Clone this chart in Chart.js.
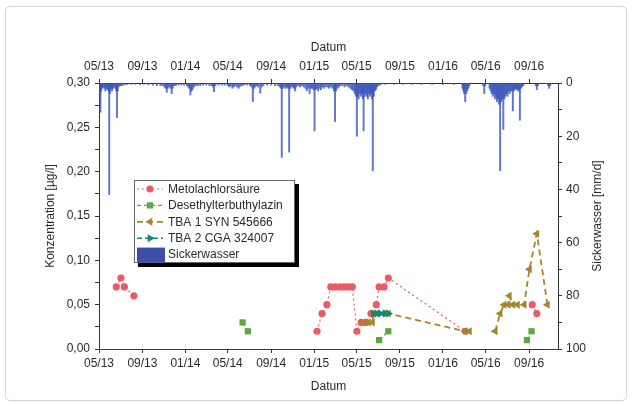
<!DOCTYPE html>
<html>
<head>
<meta charset="utf-8">
<script src="https://cdn.jsdelivr.net/npm/chart.js@4/dist/chart.umd.min.js"></script>
<style>
  html, body { margin: 0; padding: 0; background: #fff; }
  canvas { display: block; }
</style>
</head>
<body>
<canvas id="grafico" width="633" height="406"></canvas>
<script>
// Zeitachse
const xStart = '2013-05-01';
const xEnde = '2016-11-22';
const tickDaten = ['2013-05-01', '2013-09-01', '2014-01-01', '2014-05-01', '2014-09-01', '2015-01-01',
    '2015-05-01', '2015-09-01', '2016-01-01', '2016-05-01', '2016-09-01'];
const tickLabels = ['05/13', '09/13', '01/14', '05/14', '09/14', '01/15', '05/15', '09/15', '01/16', '05/16', '09/16'];

// linke Achse (Konzentration) und rechte Achse (Sickerwasser)
const konzTicks = [0, 0.025, 0.05, 0.075, 0.10, 0.125, 0.15, 0.175, 0.20, 0.225, 0.25, 0.275, 0.30];
const konzLabels = ['0,00', '', '0,05', '', '0,10', '', '0,15', '', '0,20', '', '0,25', '', '0,30'];
const sickerTicks = [0, 10, 20, 30, 40, 50, 60, 70, 80, 90, 100];
const sickerLabels = ['0', '', '20', '', '40', '', '60', '', '80', '', '100'];

// Messwerte, null = Luecke in der Linie
const metoDaten = ['2013-06-19', '2013-07-02', '2013-07-12', '2013-08-08', '2014-06-01',
    '2015-01-09', '2015-01-23', '2015-02-06', '2015-02-17', '2015-03-02', '2015-03-16', '2015-03-27',
    '2015-04-07', '2015-04-19', '2015-05-02', '2015-05-14', '2015-05-28', '2015-06-11', '2015-06-26',
    '2015-07-04', '2015-07-18', '2015-07-30', '2016-03-04', '2016-06-01', '2016-09-10', '2016-09-23'];
const metoWerte = [0.07, 0.08, 0.07, 0.06, null,
    0.02, 0.04, 0.05, 0.07, 0.07, 0.07, 0.07,
    0.07, 0.07, 0.02, 0.03, 0.03, 0.04, 0.05,
    0.07, 0.07, 0.08, 0.02, null, 0.05, 0.04];

const desDaten = ['2014-06-12', '2014-06-27', '2015-01-01', '2015-07-04', '2015-07-30', '2016-01-01', '2016-08-26', '2016-09-08'];
const desWerte = [0.03, 0.02, null, 0.01, 0.02, null, 0.01, 0.02];

const tba1Daten = ['2015-05-21', '2015-06-04', '2015-06-15', '2015-06-18', '2015-06-30', '2015-07-15', '2015-07-30',
    '2016-03-04', '2016-03-16', '2016-04-20', '2016-05-28', '2016-06-11', '2016-06-22', '2016-07-04', '2016-07-07',
    '2016-07-17', '2016-07-30', '2016-08-18', '2016-09-02', '2016-09-23', '2016-10-23'];
const tba1Werte = [0.03, 0.03, 0.03, 0.04, 0.04, 0.04, 0.04,
    0.02, 0.02, null, 0.02, 0.04, 0.05, 0.05, 0.06,
    0.05, 0.05, 0.05, 0.09, 0.13, 0.05];

const tba2Daten = ['2015-06-18', '2015-06-28', '2015-07-07', '2015-07-21', '2015-07-30'];
const tba2Werte = [0.04, 0.04, 0.04, 0.04, 0.04];

// Sickerwasser [mm/d]
const sickerwasser = [
    ['2013-05-02', 2], ['2013-05-04', 4], ['2013-05-05', 11], ['2013-05-07', 3], ['2013-05-10', 2], ['2013-05-13', 1.5],
    ['2013-05-16', 2], ['2013-05-19', 3], ['2013-05-22', 2], ['2013-05-25', 2.5], ['2013-05-28', 3], ['2013-05-30', 42],
    ['2013-06-01', 4], ['2013-06-04', 2], ['2013-06-07', 3], ['2013-06-10', 2], ['2013-06-13', 1.5], ['2013-06-16', 2],
    ['2013-06-19', 3], ['2013-06-21', 13], ['2013-06-23', 3], ['2013-06-26', 1.5], ['2013-06-30', 1], ['2013-07-05', 1],
    ['2013-07-12', 0.8], ['2013-07-20', 0.6], ['2013-08-01', 0.5], ['2013-08-12', 0.5], ['2013-08-25', 0.6], ['2013-09-05', 0.5],
    ['2013-09-18', 0.6], ['2013-10-01', 0.8], ['2013-10-12', 1], ['2013-10-22', 1], ['2013-10-28', 1], ['2013-11-02', 1.5],
    ['2013-11-06', 2], ['2013-11-09', 3.5], ['2013-11-12', 2], ['2013-11-16', 1.5], ['2013-11-20', 2], ['2013-11-23', 4],
    ['2013-11-26', 2], ['2013-11-30', 1], ['2013-12-05', 1], ['2013-12-12', 0.8], ['2013-12-20', 0.8], ['2013-12-28', 0.8],
    ['2014-01-05', 1], ['2014-01-09', 1.5], ['2014-01-12', 2], ['2014-01-15', 4.5], ['2014-01-18', 3], ['2014-01-21', 2.5],
    ['2014-01-25', 1.5], ['2014-01-30', 1], ['2014-02-05', 1], ['2014-02-12', 1], ['2014-02-20', 0.8], ['2014-03-01', 0.8],
    ['2014-03-10', 1], ['2014-03-17', 1], ['2014-03-20', 1.5], ['2014-03-23', 3.3], ['2014-03-27', 1], ['2014-04-05', 0.8],
    ['2014-04-14', 0.8], ['2014-04-22', 0.8], ['2014-05-01', 1], ['2014-05-05', 1.5], ['2014-05-09', 1.2], ['2014-05-14', 2],
    ['2014-05-18', 1.5], ['2014-05-22', 1], ['2014-05-27', 1.5], ['2014-06-01', 2], ['2014-06-05', 1.2], ['2014-06-10', 1],
    ['2014-06-16', 0.8], ['2014-06-24', 0.8], ['2014-07-03', 1], ['2014-07-07', 1.5], ['2014-07-11', 7], ['2014-07-14', 2],
    ['2014-07-18', 1.5], ['2014-07-22', 1], ['2014-07-26', 1.5], ['2014-08-01', 3.8], ['2014-08-05', 1.5], ['2014-08-10', 1],
    ['2014-08-20', 0.8], ['2014-09-01', 0.8], ['2014-09-12', 1], ['2014-09-20', 1], ['2014-09-25', 1.5], ['2014-09-29', 2],
    ['2014-10-01', 28], ['2014-10-04', 2], ['2014-10-08', 1.5], ['2014-10-12', 2], ['2014-10-16', 1.5], ['2014-10-19', 2],
    ['2014-10-22', 26], ['2014-10-25', 2], ['2014-10-29', 1.5], ['2014-11-02', 1.5], ['2014-11-05', 2], ['2014-11-08', 3],
    ['2014-11-12', 1.5], ['2014-11-17', 1], ['2014-11-22', 1.5], ['2014-11-27', 1], ['2014-12-02', 1.5], ['2014-12-07', 2],
    ['2014-12-11', 3], ['2014-12-15', 2], ['2014-12-19', 4], ['2014-12-23', 2], ['2014-12-27', 2], ['2014-12-30', 2.5],
    ['2015-01-02', 18], ['2015-01-05', 2.5], ['2015-01-08', 2], ['2015-01-12', 3], ['2015-01-16', 2], ['2015-01-20', 2.5],
    ['2015-01-24', 1.5], ['2015-01-28', 2], ['2015-02-02', 1.5], ['2015-02-07', 1.5], ['2015-02-12', 2], ['2015-02-17', 1.5],
    ['2015-02-22', 2], ['2015-02-26', 3], ['2015-03-01', 14.5], ['2015-03-04', 3], ['2015-03-08', 2], ['2015-03-12', 1.5],
    ['2015-03-16', 1], ['2015-03-22', 1], ['2015-03-28', 1.5], ['2015-04-03', 1], ['2015-04-08', 1.5], ['2015-04-13', 2],
    ['2015-04-18', 2.5], ['2015-04-22', 3], ['2015-04-26', 4], ['2015-04-29', 5], ['2015-05-02', 20], ['2015-05-04', 5],
    ['2015-05-07', 6], ['2015-05-10', 4], ['2015-05-13', 5], ['2015-05-16', 4], ['2015-05-19', 6], ['2015-05-21', 18],
    ['2015-05-24', 5], ['2015-05-27', 4], ['2015-05-30', 5], ['2015-06-02', 6], ['2015-06-05', 4], ['2015-06-08', 5],
    ['2015-06-11', 4], ['2015-06-14', 6], ['2015-06-16', 33], ['2015-06-19', 5], ['2015-06-22', 3], ['2015-06-25', 2.5],
    ['2015-06-28', 1.5], ['2015-07-02', 1], ['2015-07-07', 0.8], ['2015-07-20', 0.5], ['2015-08-15', 0.5], ['2015-09-10', 0.5],
    ['2015-10-05', 0.5], ['2015-11-01', 0.5], ['2015-12-01', 0.5], ['2016-01-01', 0.5], ['2016-02-01', 0.5], ['2016-02-25', 2],
    ['2016-02-28', 3], ['2016-03-01', 4], ['2016-03-04', 7], ['2016-03-07', 4], ['2016-03-10', 3], ['2016-03-13', 2],
    ['2016-03-16', 1], ['2016-04-24', 1], ['2016-04-27', 4], ['2016-04-30', 1], ['2016-05-12', 2], ['2016-05-15', 3],
    ['2016-05-18', 4], ['2016-05-21', 5], ['2016-05-24', 4], ['2016-05-27', 6], ['2016-05-30', 5], ['2016-06-02', 7],
    ['2016-06-05', 6], ['2016-06-08', 8], ['2016-06-11', 33], ['2016-06-14', 7], ['2016-06-17', 6], ['2016-06-20', 17.5],
    ['2016-06-23', 6], ['2016-06-26', 5], ['2016-06-29', 4], ['2016-07-02', 5], ['2016-07-05', 3], ['2016-07-08', 4],
    ['2016-07-11', 3], ['2016-07-14', 3], ['2016-07-17', 10.5], ['2016-07-20', 3], ['2016-07-23', 2], ['2016-07-26', 2.5],
    ['2016-07-29', 2], ['2016-08-01', 3], ['2016-08-03', 2.5], ['2016-08-06', 14], ['2016-08-09', 2], ['2016-08-12', 1.5],
    ['2016-08-16', 1], ['2016-09-20', 1], ['2016-09-23', 2.5], ['2016-09-26', 1], ['2016-10-25', 1], ['2016-10-28', 2],
    ['2016-10-31', 1]
];

const schrift = "'Liberation Sans', Arial, sans-serif";
const textFarbe = '#2a2a2a';
const achsFarbe = '#333';

function tag(s) {
    return Date.parse(s + 'T00:00:00Z');
}

function punkte(daten, werte) {
    return daten.map((d, i) => ({ x: tag(d), y: werte[i] }));
}

// Marker wie in Chart.js (circle, rect, triangle)
function zeichneMarker(ctx, stil, r, rotation, x, y, farbe) {
    ctx.save();
    ctx.translate(x, y);
    ctx.rotate(rotation * Math.PI / 180);
    ctx.fillStyle = farbe;
    ctx.beginPath();
    if (stil === 'circle') {
        ctx.arc(0, 0, r, 0, Math.PI * 2);
    } else if (stil === 'rect') {
        const s = r * Math.SQRT1_2;
        ctx.rect(-s, -s, 2 * s, 2 * s);
    } else {
        ctx.moveTo(0, -r);
        ctx.lineTo(r * Math.sin(2 * Math.PI / 3), -r * Math.cos(2 * Math.PI / 3));
        ctx.lineTo(r * Math.sin(4 * Math.PI / 3), -r * Math.cos(4 * Math.PI / 3));
        ctx.closePath();
    }
    ctx.fill();
    ctx.restore();
}

const rahmenPlugin = {
    id: 'rahmen',
    beforeDraw(chart) {
        const ctx = chart.ctx;
        ctx.save();
        ctx.strokeStyle = '#d2d2d2';
        ctx.lineWidth = 1;
        ctx.beginPath();
        ctx.roundRect(5.5, 6.5, 621, 394, 4);
        ctx.stroke();
        ctx.restore();
    }
};

const legendePlugin = {
    id: 'legende',
    afterDraw(chart) {
        const ctx = chart.ctx;
        const x = 134, y = 180, w = 161, h = 83;
        ctx.save();
        ctx.fillStyle = '#000';
        ctx.fillRect(x + 4, y + 4, w, h);
        ctx.fillStyle = '#fff';
        ctx.fillRect(x, y, w, h);
        ctx.strokeStyle = '#666';
        ctx.lineWidth = 1;
        ctx.strokeRect(x + 0.5, y + 0.5, w - 1, h - 1);

        ctx.font = '12px ' + schrift;
        ctx.textBaseline = 'middle';
        ctx.textAlign = 'left';
        chart.data.datasets.forEach((ds, i) => {
            const zy = 189 + i * 16.4;
            if (ds.type === 'bar') {
                ctx.fillStyle = '#3a50a8';
                ctx.fillRect(137, zy - 7, 28, 15);
            } else {
                ctx.strokeStyle = ds.borderColor;
                ctx.lineWidth = ds.borderWidth;
                ctx.setLineDash(ds.borderDash);
                ctx.beginPath();
                ctx.moveTo(137, zy);
                ctx.lineTo(163, zy);
                ctx.stroke();
                ctx.setLineDash([]);
                zeichneMarker(ctx, ds.pointStyle, ds.pointRadius, ds.pointRotation || 0, 150, zy, ds.pointBackgroundColor);
            }
            ctx.fillStyle = textFarbe;
            ctx.fillText(ds.label, 168, zy + 0.5);
        });
        ctx.restore();
    }
};

const rechterTitelPlugin = {
    id: 'rechterTitel',
    afterDraw(chart) {
        const ctx = chart.ctx;
        const area = chart.chartArea;
        ctx.save();
        ctx.translate(598, (area.top + area.bottom) / 2);
        ctx.rotate(-Math.PI / 2);
        ctx.font = '12px ' + schrift;
        ctx.fillStyle = textFarbe;
        ctx.textAlign = 'center';
        ctx.textBaseline = 'middle';
        ctx.fillText('Sickerwasser [mm/d]', 0, 0);
        ctx.restore();
    }
};

function zeitAchse(position, hoehe, titelPadding, tickPadding) {
    return {
        type: 'linear',
        position: position,
        min: tag(xStart),
        max: tag(xEnde),
        offset: false,
        afterBuildTicks: (s) => { s.ticks = tickDaten.map(d => ({ value: tag(d) })); },
        afterFit: (s) => { s.height = hoehe; },
        ticks: {
            autoSkip: false,
            maxRotation: 0,
            padding: tickPadding,
            color: textFarbe,
            font: { family: schrift, size: 12 },
            callback: (v, i) => tickLabels[i]
        },
        grid: { drawOnChartArea: false, offset: false, tickLength: 4, tickColor: achsFarbe },
        border: { display: true, color: achsFarbe, width: 1 },
        title: {
            display: true,
            text: 'Datum',
            color: textFarbe,
            font: { family: schrift, size: 12 },
            padding: titelPadding
        }
    };
}

new Chart(document.getElementById('grafico'), {
    type: 'line',
    data: {
        datasets: [
            {
                label: 'Metolachlorsäure',
                data: punkte(metoDaten, metoWerte),
                borderColor: '#ec5a66',
                borderWidth: 1.2,
                borderDash: [2, 3],
                pointStyle: 'circle',
                pointRadius: 3.6,
                pointBackgroundColor: '#ec5a66',
                pointBorderWidth: 0,
                order: 3
            },
            {
                label: 'Desethylterbuthylazin',
                data: punkte(desDaten, desWerte),
                borderColor: '#5aa83e',
                borderWidth: 1.2,
                borderDash: [4, 3],
                pointStyle: 'rect',
                pointRadius: 4.4,
                pointBackgroundColor: '#5aa83e',
                pointBorderWidth: 0,
                order: 2
            },
            {
                label: 'TBA 1 SYN 545666',
                data: punkte(tba1Daten, tba1Werte),
                borderColor: '#a8842c',
                borderWidth: 1.8,
                borderDash: [6, 4],
                pointStyle: 'triangle',
                pointRotation: -90,
                pointRadius: 4.6,
                pointBackgroundColor: '#a8842c',
                pointBorderWidth: 0,
                order: 1
            },
            {
                label: 'TBA 2 CGA 324007',
                data: punkte(tba2Daten, tba2Werte),
                borderColor: '#13886a',
                borderWidth: 1.5,
                borderDash: [5, 3],
                pointStyle: 'triangle',
                pointRotation: 90,
                pointRadius: 4.6,
                pointBackgroundColor: '#13886a',
                pointBorderWidth: 0,
                order: 0
            },
            {
                type: 'bar',
                label: 'Sickerwasser',
                data: sickerwasser.map(p => ({ x: tag(p[0]), y: p[1] })),
                yAxisID: 'y2',
                xAxisID: 'x',
                backgroundColor: 'rgba(52, 80, 185, 0.78)',
                borderWidth: 0,
                barThickness: 1.3,
                grouped: false,
                order: 4
            }
        ]
    },
    options: {
        responsive: false,
        animation: false,
        spanGaps: false,
        layout: { padding: 0 },
        elements: { line: { tension: 0, fill: false } },
        plugins: { legend: { display: false }, tooltip: { enabled: false } },
        scales: {
            x: zeitAchse('bottom', 57, { top: 0, bottom: 12 }, 3),
            xOben: zeitAchse('top', 83, { top: 40, bottom: 0 }, 5),
            y: {
                type: 'linear',
                position: 'left',
                min: 0,
                max: 0.30,
                afterBuildTicks: (s) => { s.ticks = konzTicks.map(v => ({ value: v })); },
                afterFit: (s) => { s.width = 99; },
                ticks: {
                    padding: 5,
                    color: textFarbe,
                    font: { family: schrift, size: 12 },
                    callback: (v, i) => konzLabels[i]
                },
                grid: { drawOnChartArea: false, tickLength: 4, tickColor: achsFarbe },
                border: { display: true, color: achsFarbe, width: 1 },
                title: {
                    display: true,
                    text: 'Konzentration [µg/l]',
                    color: textFarbe,
                    font: { family: schrift, size: 12 },
                    padding: { top: 43, bottom: 0 }
                }
            },
            y2: {
                type: 'linear',
                position: 'right',
                reverse: true,
                min: 0,
                max: 100,
                afterBuildTicks: (s) => { s.ticks = sickerTicks.map(v => ({ value: v })); },
                afterFit: (s) => { s.width = 75; },
                ticks: {
                    padding: 4,
                    color: textFarbe,
                    font: { family: schrift, size: 12 },
                    callback: (v, i) => sickerLabels[i]
                },
                grid: { drawOnChartArea: false, tickLength: 4, tickColor: achsFarbe },
                border: { display: true, color: achsFarbe, width: 1 }
            }
        }
    },
    plugins: [rahmenPlugin, legendePlugin, rechterTitelPlugin]
});
</script>
</body>
</html>
